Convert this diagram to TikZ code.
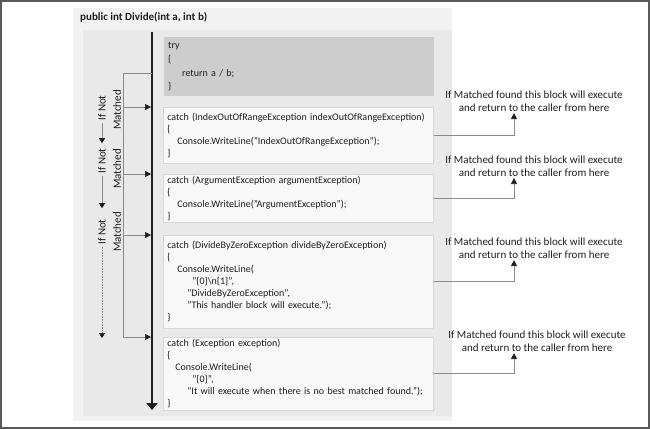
\documentclass[tikz,border=0pt]{standalone}
\usepackage{fontspec}
\setmainfont{Carlito}
\usepackage{xcolor}
\usetikzlibrary{arrows.meta,positioning,calc}
\definecolor{frame}{HTML}{595959}
\definecolor{panel}{HTML}{F2F2F2}
\definecolor{innerpanel}{HTML}{E9E9E9}
\definecolor{trygray}{HTML}{CDCDCD}
\definecolor{catchfill}{HTML}{F8F8F8}
\definecolor{catchedge}{HTML}{D8D8D8}
\definecolor{ink}{HTML}{1E1E1E}
\definecolor{wire}{HTML}{8A8A8A}
\tikzset{
  codebox/.style={anchor=north west,align=left,text width=262pt,
                  inner xsep=4pt,inner ysep=0pt,text=ink,
                  font=\fontsize{10}{12}\selectfont},
  trybox/.style={codebox,fill=trygray,font=\fontsize{10}{13.7}\selectfont},
  catchbox/.style={codebox,fill=catchfill,draw=catchedge,line width=0.6pt},
  callout/.style={align=center,inner sep=1pt,text=ink,
                  font=\fontsize{11}{13}\selectfont},
  sidelabel/.style={rotate=90,inner sep=2pt,text=ink,
                    font=\fontsize{11}{13}\selectfont},
  sigtitle/.style={anchor=west,inner sep=0pt,text=ink,
                   font=\fontsize{11}{13}\selectfont\bfseries},
  mainflow/.style={-{Triangle[length=7pt,width=11pt]},line width=2pt,draw=ink},
  branch/.style={-{Triangle[length=6pt,width=6pt,color=ink]},line width=0.7pt,
                 draw=wire,shorten >=1pt},
  returnarr/.style={-{Triangle[length=6pt,width=6pt,color=ink]},line width=0.7pt,
                    draw=wire},
  notarr/.style={-{Triangle[length=5pt,width=6pt,color=ink]},line width=0.6pt,
                 draw=wire}
}
\begin{document}
\begin{tikzpicture}[x=1pt,y=-1pt]
  \path[use as bounding box] (0,0) rectangle (650,429);
  \draw[frame,line width=2pt] (1,1) rectangle (649,428);
  \fill[panel] (73,8) rectangle (452,421);
  \fill[innerpanel] (83,30) rectangle (452,416);
  \node[sigtitle] (sig) at (80,17) {public int Divide(int a, int b)};

  \node[trybox,minimum height=59pt] (tryblk) at (164,37)
    {try\\ \{\\ \hspace*{14pt}return a / b;\\ \}};
  \node[catchbox,minimum height=56pt] (catch1) at (163,107)
    {catch (IndexOutOfRangeException indexOutOfRangeException)\\ \{\\
     \hspace*{10pt}Console.WriteLine("IndexOutOfRangeException");\\ \}};
  \node[catchbox,minimum height=48pt] (catch2) at (163,174)
    {catch (ArgumentException argumentException)\\ \{\\
     \hspace*{10pt}Console.WriteLine("ArgumentException");\\ \}};
  \node[catchbox,minimum height=93pt] (catch3) at (163,235)
    {catch (DivideByZeroException divideByZeroException)\\ \{\\
     \hspace*{10pt}Console.WriteLine(\\
     \hspace*{25pt}"\{0\}\textbackslash n\{1\}",\\
     \hspace*{20pt}"DivideByZeroException",\\
     \hspace*{20pt}"This handler block will execute.");\\ \}};
  \node[catchbox,minimum height=73pt] (catch4) at (163,337)
    {catch (Exception exception)\\ \{\\
     \hspace*{8pt}Console.WriteLine(\\
     \hspace*{25pt}"\{0\}",\\
     \hspace*{20pt}"It will execute when there is no best matched found.");\\ \}};

  \coordinate (flowtop) at (152,32);
  \coordinate (flowend) at (152,410);
  \coordinate (split) at (123,73);
  \draw[mainflow] (flowtop) -- (flowend);
  \draw[wire,line width=0.7pt] (flowtop |- split) -- (split);
  \foreach \k in {1,...,4}
    \draw[branch] (split) |- (flowtop |- catch\k.north west);

  \foreach \k/\a/\b in {1/108/110,2/161/169,3/232/232}{
    \node[sidelabel] (ifnot\k) at (102,\a) {If Not};
    \node[sidelabel] (matched\k) at (117,\b) {Matched};
  }
  \coordinate (lastcheck) at (102,338);
  \draw[notarr,shorten >=3pt] (ifnot1.west) -- (ifnot2.east);
  \draw[notarr,shorten >=9pt] (ifnot2.west) -- (ifnot3.east);
  \draw[notarr,densely dotted] (ifnot3.west) -- (lastcheck);

  \foreach \k/\y in {1/101.5,2/166.5,3/248.5}
    \node[callout] (ret\k) at (534,\y)
      {If Matched found this block will execute\\and return to the caller from here};
  \node[callout] (ret4) at (537,341.5)
    {If Matched found this block will execute\\and return to the caller from here};
  \foreach \k in {1,2,3}
    \draw[returnarr] (catch\k.east) -| ([xshift=-20pt]ret\k.south);
  \draw[returnarr] (catch4.east) -| ([xshift=-23pt]ret4.south);
\end{tikzpicture}
\end{document}
